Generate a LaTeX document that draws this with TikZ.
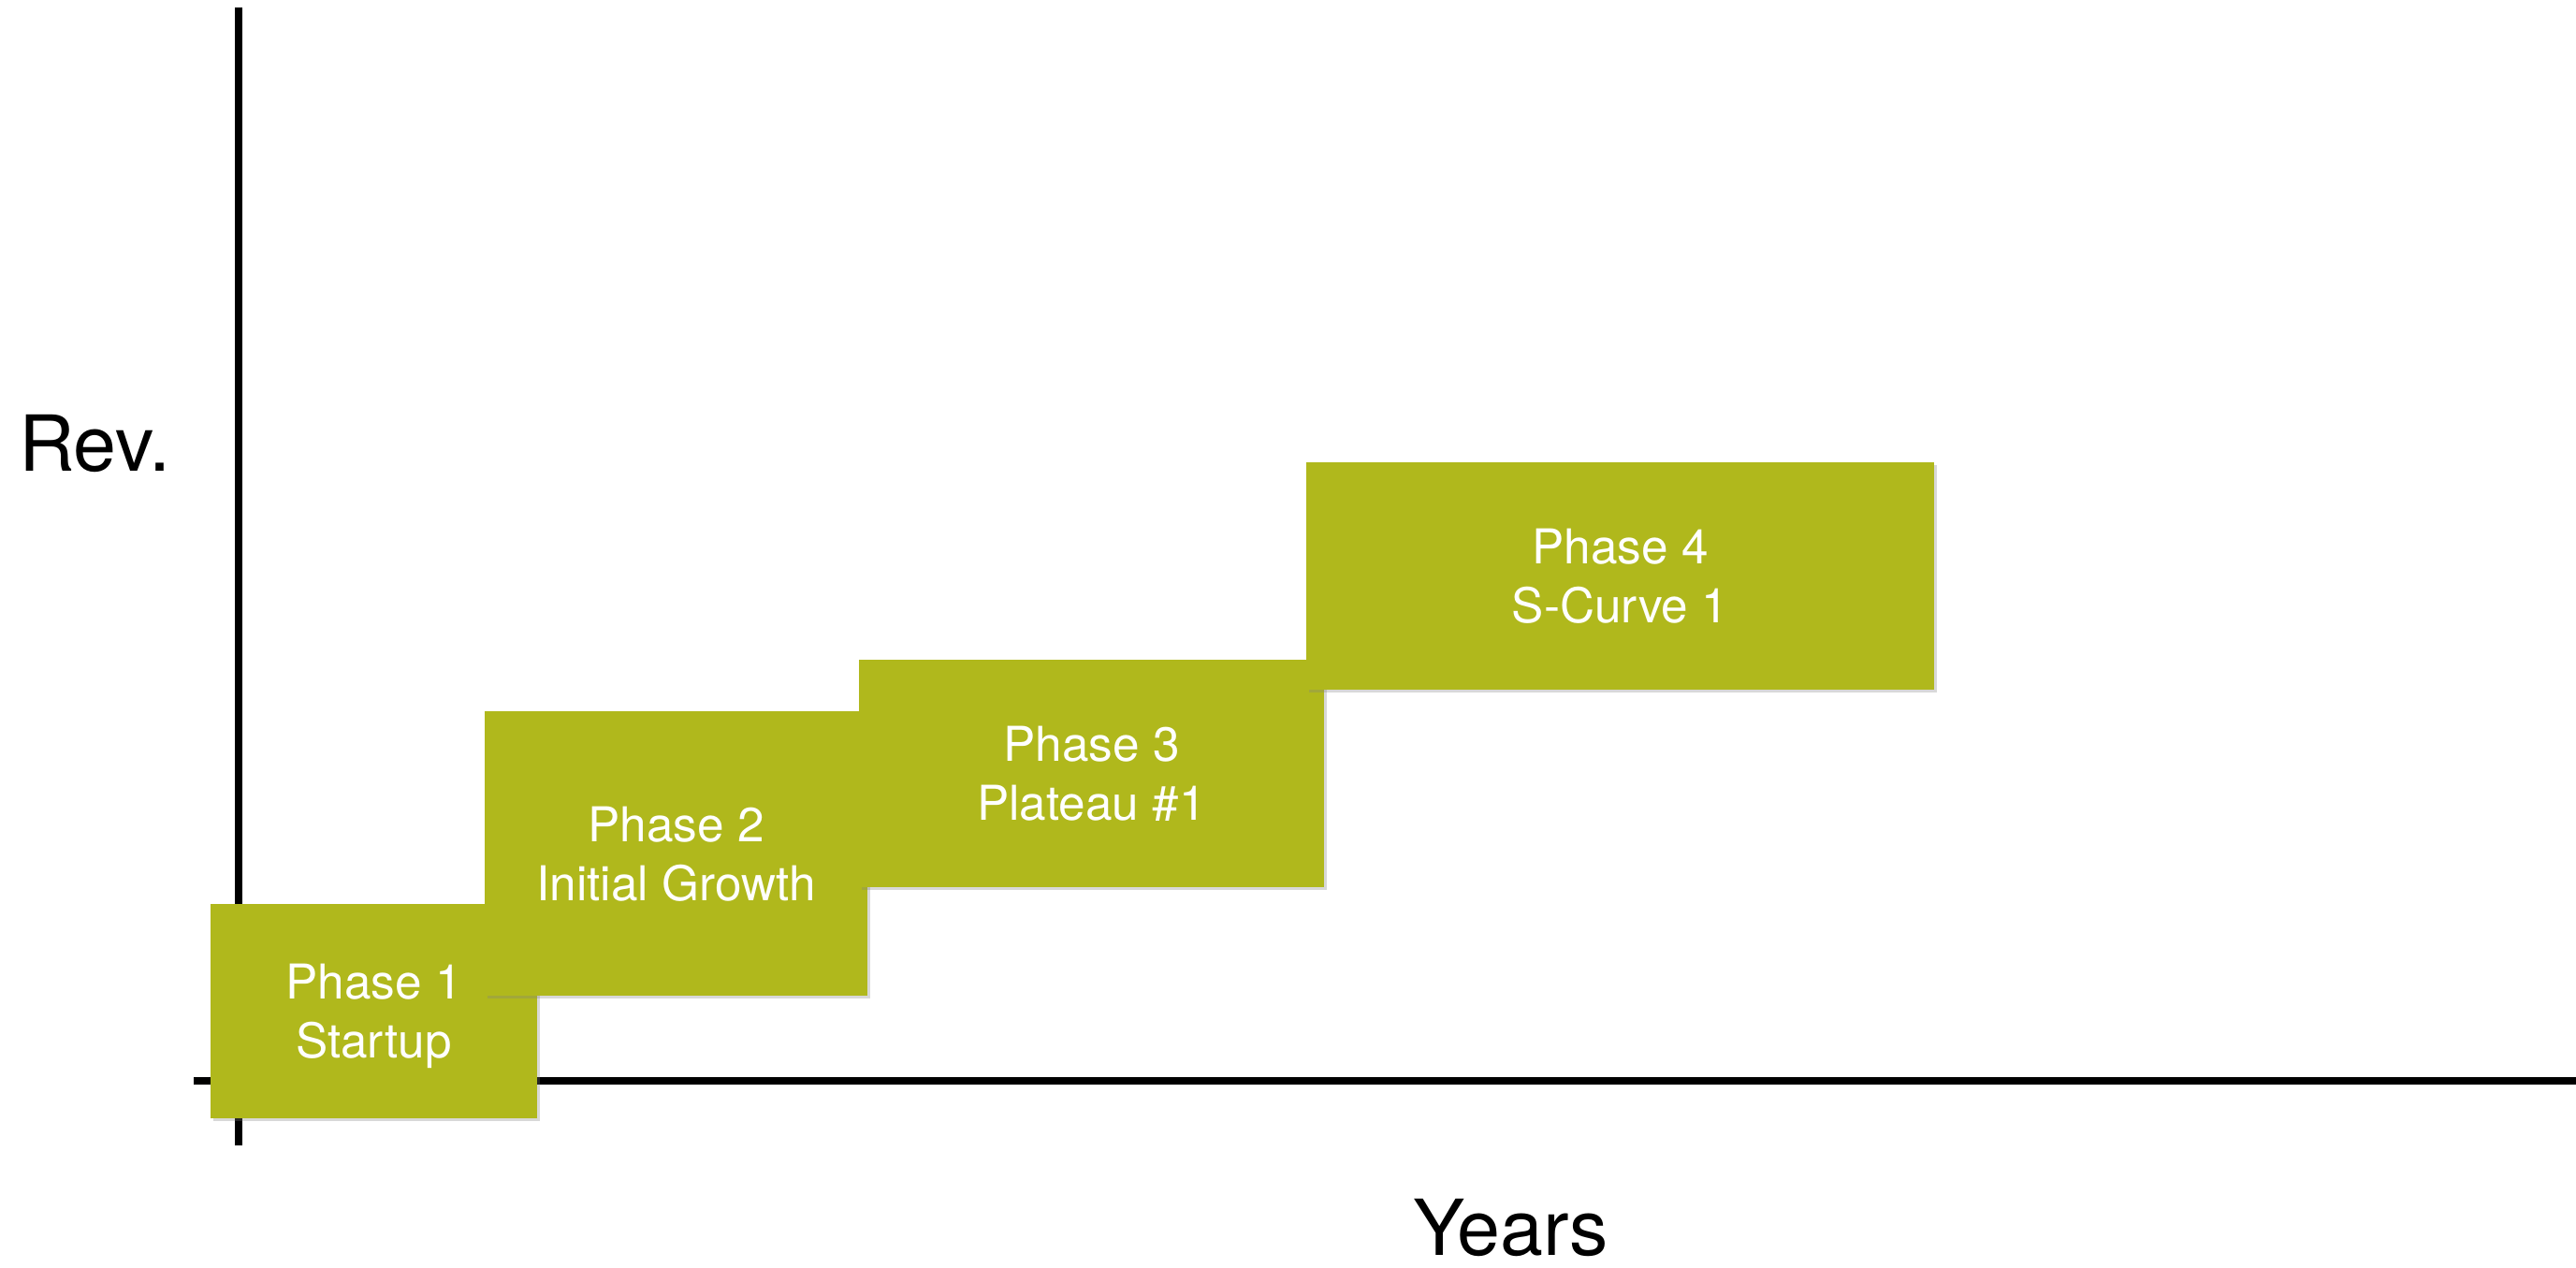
\documentclass[tikz,border=0pt]{standalone}
\usepackage{fontspec}
\setmainfont{TeX Gyre Heros}
\usetikzlibrary{shadows}
\definecolor{phasegreen}{RGB}{176,184,28}
\begin{document}
\begin{tikzpicture}[
  phase/.style = {fill=phasegreen, text=white, align=center, inner sep=0pt,
                  font=\fontsize{14.6}{17.9}\selectfont, text depth=0pt,
                  drop shadow={shadow xshift=0.025cm, shadow yshift=-0.03cm, opacity=0.3}},
  axislabel/.style = {anchor=base, inner sep=0pt, text depth=0pt, font=\fontsize{23.5}{28}\selectfont},
  ]
  \useasboundingbox (0,0) rectangle (27.53,13.55);
  \fill[white] (0,0) rectangle (27.53,13.55);

  \draw[line width=0.08cm] (2.07,2.00) -- (27.53,2.00); % x-axis
  \draw[line width=0.08cm] (2.55,1.31) -- (2.55,13.47); % y-axis

  \node[axislabel] (rev) at (1.01,8.51) {Rev.};
  \node[axislabel] (years) at (16.145,0.13) {Years};

  \node[phase, minimum width=3.49cm, minimum height=2.29cm] (p1) at (3.995,2.745) {Phase 1\\Startup};
  \node[phase, minimum width=4.09cm, minimum height=3.04cm] (p2) at (7.225,4.43) {Phase 2\\Initial Growth};
  \node[phase, minimum width=4.97cm, minimum height=2.43cm] (p3) at (11.665,5.285) {Phase 3\\Plateau \#1};
  \node[phase, minimum width=6.71cm, minimum height=2.43cm] (p4) at (17.315,7.395) {Phase 4\\S-Curve 1};

\end{tikzpicture}
\end{document}
